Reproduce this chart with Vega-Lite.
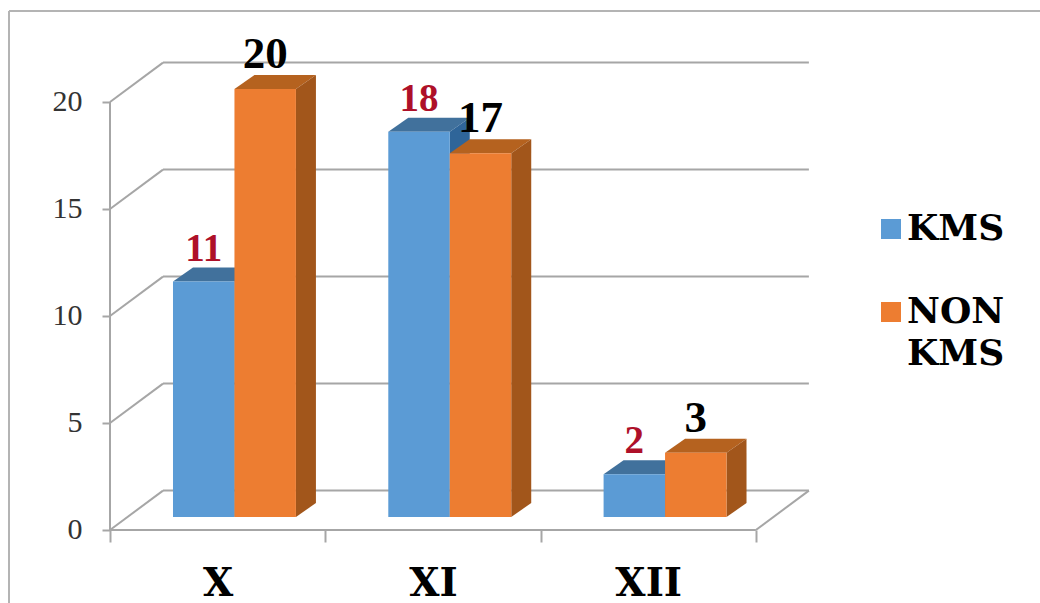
{
  "$schema": "https://vega.github.io/schema/vega-lite/v6.json",
  "width": 1031,
  "height": 592,
  "padding": {"left": 9, "top": 11, "right": 0, "bottom": 0},
  "autosize": "none",
  "background": "white",
  "view": {"stroke": null},
  "config": {"font": "Liberation Serif"},
  "datasets": {
    "bars": [
      {"grade": "X", "slot": 0, "series": "KMS", "side": 0, "count": 11},
      {"grade": "X", "slot": 0, "series": "NON KMS", "side": 1, "count": 20},
      {"grade": "XI", "slot": 1, "series": "KMS", "side": 0, "count": 18},
      {"grade": "XI", "slot": 1, "series": "NON KMS", "side": 1, "count": 17},
      {"grade": "XII", "slot": 2, "series": "KMS", "side": 0, "count": 2},
      {"grade": "XII", "slot": 2, "series": "NON KMS", "side": 1, "count": 3}
    ],
    "levels": [{"level": 0}, {"level": 5}, {"level": 10}, {"level": 15}, {"level": 20}],
    "single": [{"level": 0}]
  },
  "layer": [
    {
      "description": "Outer frame, top edge; also carries the value axis",
      "data": {"name": "single"},
      "mark": {"type": "rule", "color": "#b4b4b4", "strokeWidth": 2},
      "encoding": {
        "y": {
          "datum": 24.25,
          "type": "quantitative",
          "scale": {"domain": [-3.411, 24.25], "nice": false, "zero": false},
          "axis": {
            "orient": "left", "offset": -101, "title": null, "values": [0, 5, 10, 15, 20],
            "domain": false, "grid": false, "tickColor": "#a6a6a6", "tickWidth": 2, "tickSize": 8,
            "labelFont": "Liberation Serif", "labelFontSize": 30, "labelColor": "#333333", "labelPadding": 20
          }
        }
      }
    },
    {
      "description": "Outer frame, left edge; also carries the grade axis",
      "data": {"name": "single"},
      "mark": {"type": "rule", "color": "#b4b4b4", "strokeWidth": 2},
      "encoding": {
        "x": {
          "datum": -0.4691,
          "type": "quantitative",
          "scale": {"domain": [-0.4691, 4.3196], "nice": false, "zero": false},
          "axis": {
            "orient": "bottom", "offset": -73, "title": null,
            "values": [0, 0.5, 1, 1.5, 2, 2.5, 3],
            "domain": false, "grid": false, "tickColor": "#a6a6a6", "tickWidth": 2, "tickSize": 12,
            "tickOpacity": {"condition": {"test": "datum.value % 1 !== 0", "value": 0}, "value": 1},
            "labelExpr": "datum.value === 0.5 ? 'X' : datum.value === 1.5 ? 'XI' : datum.value === 2.5 ? 'XII' : ''",
            "labelFont": "DejaVu Serif", "labelFontWeight": "bold", "labelFontSize": 39, "labelColor": "#000000",
            "labelPadding": 22, "labelOverlap": false, "labelFlush": false
          }
        }
      }
    },
    {
      "description": "Chart box: vertical axis line",
      "data": {"name": "single"},
      "mark": {"type": "rule", "color": "#a6a6a6", "strokeWidth": 2},
      "encoding": {"x": {"datum": 0}, "y": {"datum": 0}, "y2": {"datum": 20}}
    },
    {
      "description": "Chart box: front floor edge",
      "data": {"name": "single"},
      "mark": {"type": "rule", "color": "#a6a6a6", "strokeWidth": 2},
      "encoding": {"x": {"datum": 0}, "x2": {"datum": 3}, "y": {"datum": 0}}
    },
    {
      "description": "Right-hand floor edge",
      "data": {"name": "single"},
      "mark": {"type": "rule", "color": "#a6a6a6", "strokeWidth": 2},
      "encoding": {"x": {"datum": 3}, "x2": {"datum": 3.2462}, "y": {"datum": 0}, "y2": {"datum": 1.84}}
    },
    {
      "description": "Grid lines slanting back along the left wall",
      "data": {"name": "levels"},
      "transform": [{"calculate": "datum.level + 1.84", "as": "back"}],
      "mark": {"type": "rule", "color": "#a6a6a6", "strokeWidth": 2},
      "encoding": {
        "x": {"datum": 0}, "x2": {"datum": 0.2462},
        "y": {"field": "level", "type": "quantitative"}, "y2": {"field": "back"}
      }
    },
    {
      "description": "Grid lines along the back wall",
      "data": {"name": "levels"},
      "transform": [{"calculate": "datum.level + 1.84", "as": "back"}],
      "mark": {"type": "rule", "color": "#a6a6a6", "strokeWidth": 2},
      "encoding": {
        "x": {"datum": 0.2462}, "x2": {"datum": 3.2462},
        "y": {"field": "back", "type": "quantitative"}
      }
    },
    {
      "description": "KMS bars: top faces",
      "data": {"name": "bars"},
      "transform": [
        {"filter": "datum.side === 0"},
        {"calculate": "[0, 1, 2, 3]", "as": "corner"},
        {"flatten": ["corner"]},
        {"calculate": "datum.slot + 0.2926 + datum.side * 0.2855", "as": "left"},
        {"calculate": "datum.count + 0.607", "as": "front"},
        {"calculate": "[datum.left, datum.left + 0.0929, datum.left + 0.2855, datum.left + 0.3784][datum.corner]", "as": "px"},
        {"calculate": "datum.front + (datum.corner === 3 ? 0.654 : 0)", "as": "low"},
        {"calculate": "datum.front + (datum.corner === 0 ? 0 : 0.654)", "as": "high"}
      ],
      "mark": {"type": "area", "color": "#41719c"},
      "encoding": {
        "x": {"field": "px", "type": "quantitative"},
        "y": {"field": "low", "type": "quantitative", "stack": null},
        "y2": {"field": "high"},
        "detail": {"field": "grade"}
      }
    },
    {
      "description": "KMS bars: side faces",
      "data": {"name": "bars"},
      "transform": [
        {"filter": "datum.side === 0"},
        {"calculate": "[0, 1]", "as": "corner"},
        {"flatten": ["corner"]},
        {"calculate": "datum.slot + 0.2926 + datum.side * 0.2855 + 0.2855 + datum.corner * 0.0929", "as": "px"},
        {"calculate": "0.607 + datum.corner * 0.654", "as": "low"},
        {"calculate": "datum.count + 0.607 + datum.corner * 0.654", "as": "high"}
      ],
      "mark": {"type": "area", "color": "#2f6599"},
      "encoding": {
        "x": {"field": "px", "type": "quantitative"},
        "y": {"field": "low", "type": "quantitative", "stack": null},
        "y2": {"field": "high"},
        "detail": {"field": "grade"}
      }
    },
    {
      "description": "NON KMS bars: top faces",
      "data": {"name": "bars"},
      "transform": [
        {"filter": "datum.side === 1"},
        {"calculate": "[0, 1, 2, 3]", "as": "corner"},
        {"flatten": ["corner"]},
        {"calculate": "datum.slot + 0.2926 + datum.side * 0.2855", "as": "left"},
        {"calculate": "datum.count + 0.607", "as": "front"},
        {"calculate": "[datum.left, datum.left + 0.0929, datum.left + 0.2855, datum.left + 0.3784][datum.corner]", "as": "px"},
        {"calculate": "datum.front + (datum.corner === 3 ? 0.654 : 0)", "as": "low"},
        {"calculate": "datum.front + (datum.corner === 0 ? 0 : 0.654)", "as": "high"}
      ],
      "mark": {"type": "area", "color": "#b5621f"},
      "encoding": {
        "x": {"field": "px", "type": "quantitative"},
        "y": {"field": "low", "type": "quantitative", "stack": null},
        "y2": {"field": "high"},
        "detail": {"field": "grade"}
      }
    },
    {
      "description": "NON KMS bars: side faces",
      "data": {"name": "bars"},
      "transform": [
        {"filter": "datum.side === 1"},
        {"calculate": "[0, 1]", "as": "corner"},
        {"flatten": ["corner"]},
        {"calculate": "datum.slot + 0.2926 + datum.side * 0.2855 + 0.2855 + datum.corner * 0.0929", "as": "px"},
        {"calculate": "0.607 + datum.corner * 0.654", "as": "low"},
        {"calculate": "datum.count + 0.607 + datum.corner * 0.654", "as": "high"}
      ],
      "mark": {"type": "area", "color": "#a2561b"},
      "encoding": {
        "x": {"field": "px", "type": "quantitative"},
        "y": {"field": "low", "type": "quantitative", "stack": null},
        "y2": {"field": "high"},
        "detail": {"field": "grade"}
      }
    },
    {
      "description": "Front faces of all bars, with the legend",
      "data": {"name": "bars"},
      "transform": [
        {"calculate": "datum.slot + 0.2926 + datum.side * 0.2855", "as": "left"},
        {"calculate": "datum.left + 0.2855", "as": "right"},
        {"calculate": "0.607", "as": "base"},
        {"calculate": "datum.count + 0.607", "as": "front"}
      ],
      "mark": {"type": "rect"},
      "encoding": {
        "x": {"field": "left", "type": "quantitative"},
        "x2": {"field": "right"},
        "y": {"field": "base", "type": "quantitative"},
        "y2": {"field": "front"},
        "color": {
          "field": "series",
          "type": "nominal",
          "scale": {"domain": ["KMS", "NON KMS"], "range": ["#5b9bd5", "#ed7d31"]},
          "legend": {
            "orient": "none", "legendX": 864, "legendY": 200, "title": null,
            "symbolType": "square", "symbolSize": 400, "symbolStrokeWidth": 0, "symbolOpacity": 1,
            "labelFont": "DejaVu Serif", "labelFontWeight": "bold", "labelFontSize": 36, "labelColor": "#000000",
            "labelLimit": 200, "labelOffset": -2, "rowPadding": 47,
            "labelExpr": "datum.label === 'NON KMS' ? ['NON', 'KMS'] : datum.label",
            "encode": {"labels": {"update": {"lineHeight": {"value": 42}}}}
          }
        }
      }
    },
    {
      "description": "KMS value labels",
      "data": {"name": "bars"},
      "transform": [
        {"filter": "datum.side === 0"},
        {"calculate": "datum.slot + 0.2926 + datum.side * 0.2855 + 0.1427", "as": "mid"},
        {"calculate": "datum.count + 0.607", "as": "front"}
      ],
      "mark": {"type": "text", "font": "Liberation Serif", "fontWeight": "bold", "fontSize": 39, "color": "#ae1029", "baseline": "alphabetic", "dy": -21},
      "encoding": {
        "x": {"field": "mid", "type": "quantitative"},
        "y": {"field": "front", "type": "quantitative"},
        "text": {"field": "count", "type": "quantitative"}
      }
    },
    {
      "description": "NON KMS value labels",
      "data": {"name": "bars"},
      "transform": [
        {"filter": "datum.side === 1"},
        {"calculate": "datum.slot + 0.2926 + datum.side * 0.2855 + 0.1427", "as": "mid"},
        {"calculate": "datum.count + 0.607", "as": "front"}
      ],
      "mark": {"type": "text", "font": "Liberation Serif", "fontWeight": "bold", "fontSize": 45, "color": "#000000", "baseline": "alphabetic", "dy": -21},
      "encoding": {
        "x": {"field": "mid", "type": "quantitative"},
        "y": {"field": "front", "type": "quantitative"},
        "text": {"field": "count", "type": "quantitative"}
      }
    }
  ]
}
